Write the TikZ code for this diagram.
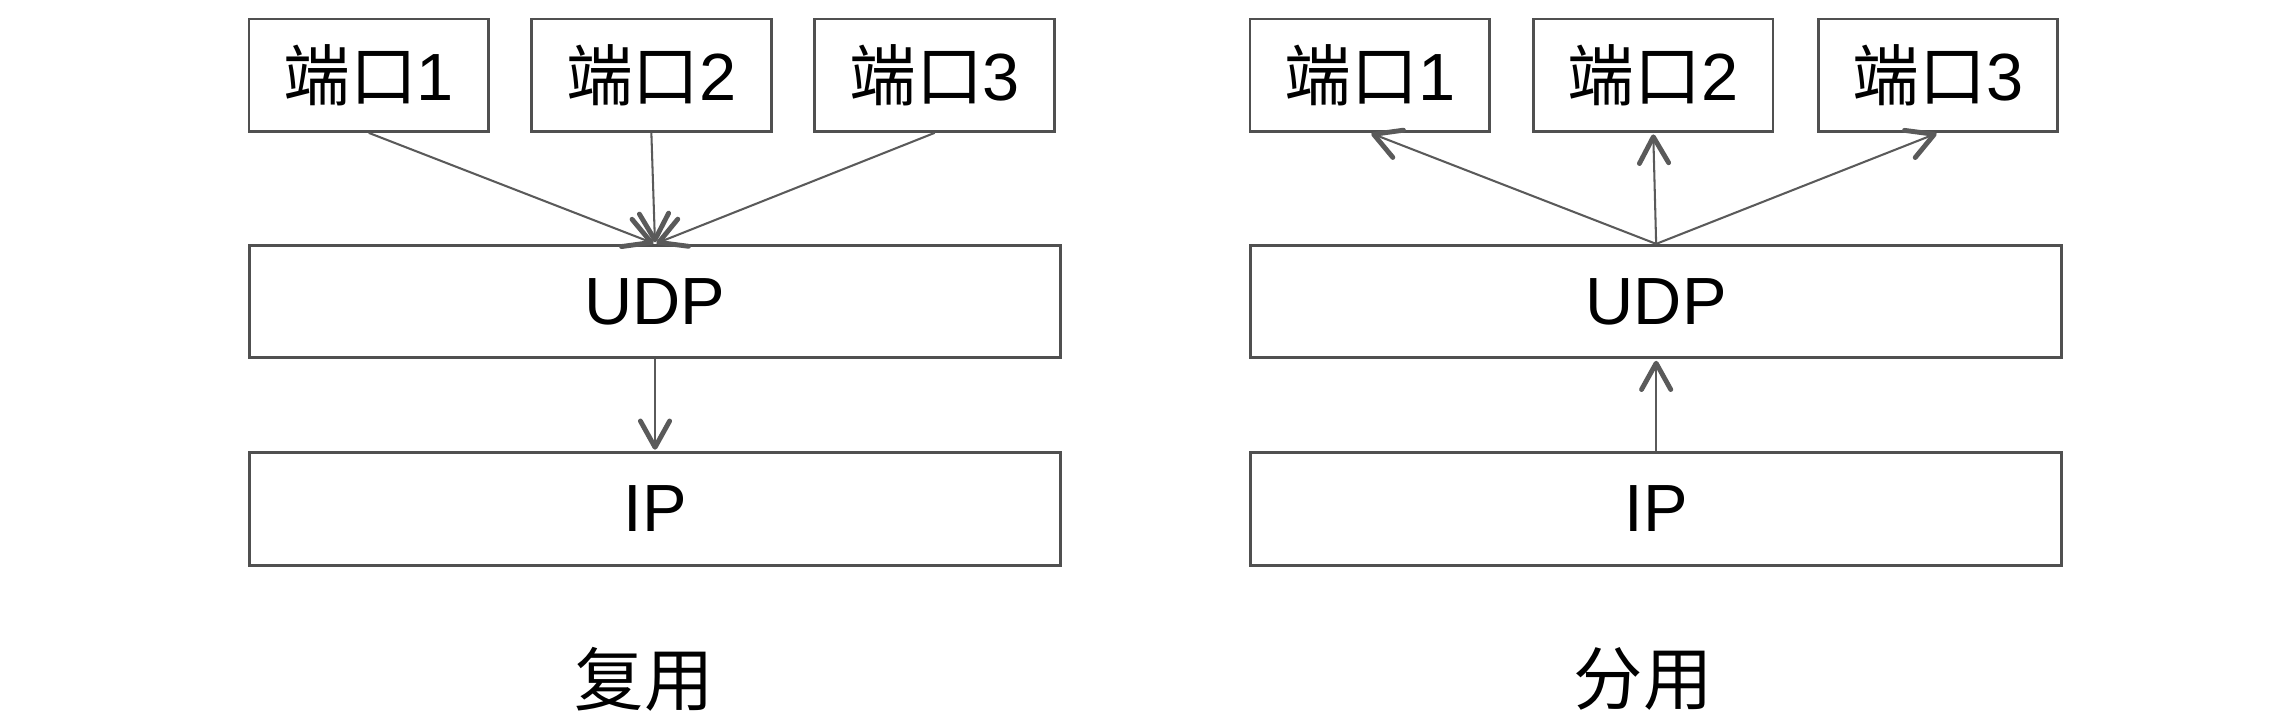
\documentclass[tikz,border=0pt]{standalone}
\usepackage{fontspec}
\setmainfont{Liberation Sans}
\newfontfamily\cjk{Noto Sans CJK SC}
\usetikzlibrary{arrows.meta}
\definecolor{boxgray}{HTML}{505050}
\definecolor{arrgray}{HTML}{5A5A5A}
\tikzset{
  portbox/.style={draw=boxgray, line width=0.55pt, minimum width=1.64cm, minimum height=0.77cm, inner sep=0pt, font=\fontsize{13}{15}\selectfont},
  layerbox/.style={draw=boxgray, line width=0.55pt, minimum width=5.55cm, minimum height=0.77cm, inner sep=0pt, font=\fontsize{13}{15}\selectfont},
  caption/.style={inner sep=0pt, font=\fontsize{13.5}{16}\selectfont\cjk},
  flow/.style={draw=arrgray, line width=0.4pt, -{Straight Barb[length=1.8mm, width=2.0mm, line width=0.95pt, round]}, shorten >=0.3pt}
}
\begin{document}
\begin{tikzpicture}[x=0.01cm, y=-0.01cm]
\useasboundingbox (0,0) rectangle (1568,492);
% left: multiplexing
\node[portbox] (lp1) at (252.5,51.5) {{\cjk 端口}1};
\node[portbox] (lp2) at (446,51.5) {{\cjk 端口}2};
\node[portbox] (lp3) at (640,51.5) {{\cjk 端口}3};
\node[layerbox] (ludp) at (448.5,206.5) {UDP};
\node[layerbox] (lip) at (448.5,348.5) {IP};
\node[caption] (lcap) at (441,465) {复用};
\draw[flow] (lp1.south) -- (ludp.north);
\draw[flow] (lp2.south) -- (ludp.north);
\draw[flow] (lp3.south) -- (ludp.north);
\draw[flow] (ludp.south) -- (lip.north);
% right: demultiplexing
\node[portbox] (rp1) at (938,51.5) {{\cjk 端口}1};
\node[portbox] (rp2) at (1132,51.5) {{\cjk 端口}2};
\node[portbox] (rp3) at (1327,51.5) {{\cjk 端口}3};
\node[layerbox] (rudp) at (1134,206.5) {UDP};
\node[layerbox] (rip) at (1134,348.5) {IP};
\node[caption] (rcap) at (1125,465) {分用};
\draw[flow] (rudp.north) -- (rp1.south);
\draw[flow] (rudp.north) -- (rp2.south);
\draw[flow] (rudp.north) -- (rp3.south);
\draw[flow] (rip.north) -- (rudp.south);
\end{tikzpicture}
\end{document}
